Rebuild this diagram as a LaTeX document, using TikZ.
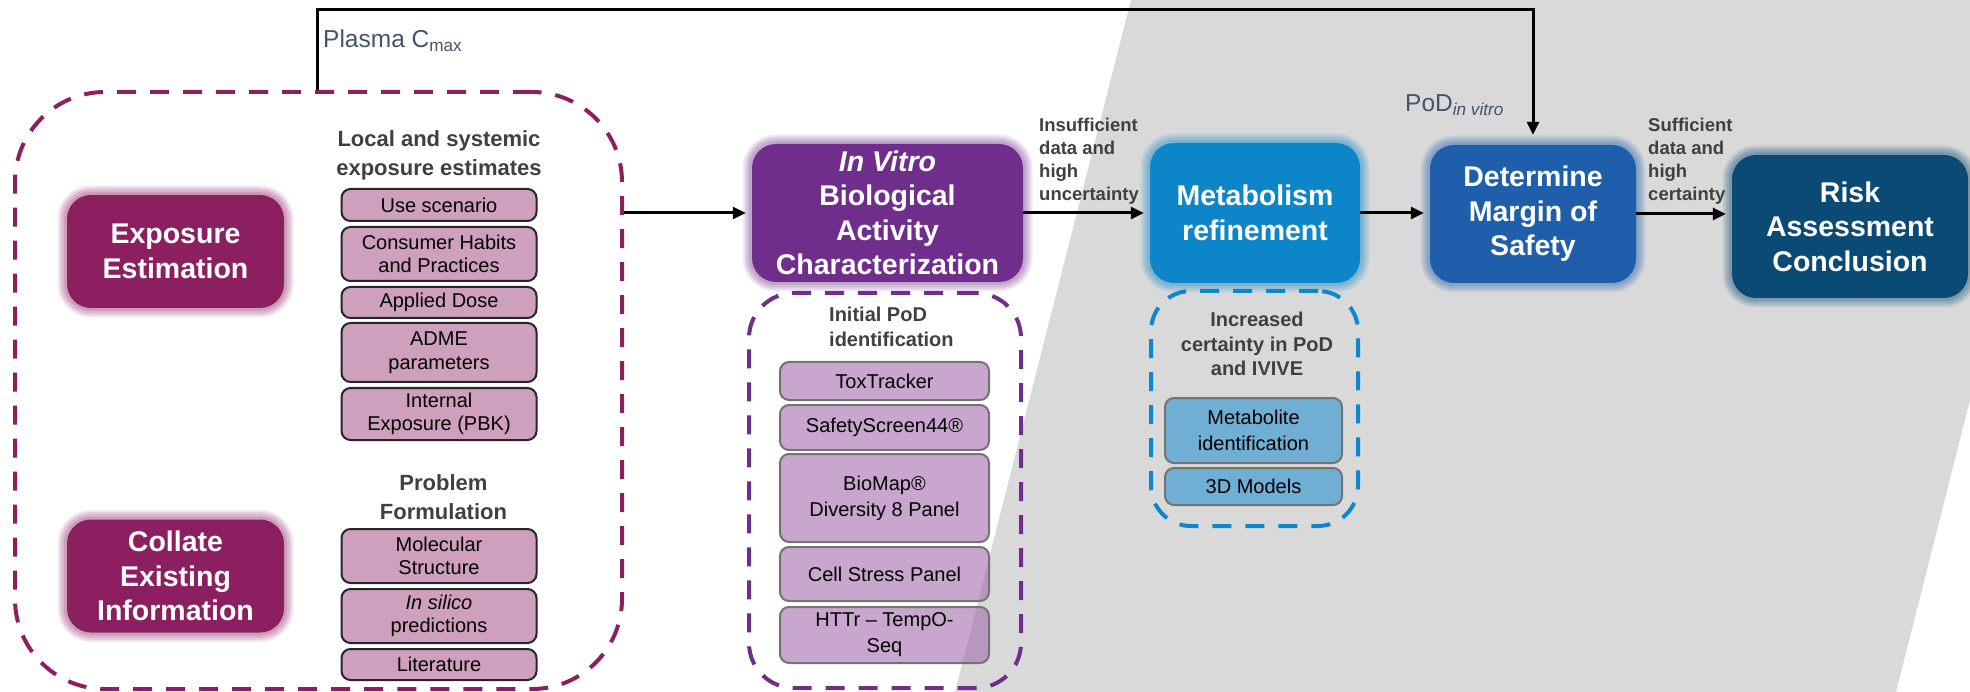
\documentclass[tikz,border=0pt]{standalone}
\usepackage{fontspec}
\setmainfont{Liberation Sans}
\usetikzlibrary{arrows.meta}

\definecolor{ngrabg}{rgb}{0.851,0.851,0.851}
\definecolor{ngraexpo}{rgb}{0.545,0.122,0.373}
\definecolor{ngrabio}{rgb}{0.439,0.180,0.549}
\definecolor{ngrametab}{rgb}{0.051,0.525,0.788}
\definecolor{ngramos}{rgb}{0.122,0.369,0.671}
\definecolor{ngrarisk}{rgb}{0.043,0.290,0.459}
\definecolor{ngrapink}{rgb}{0.812,0.627,0.745}
\definecolor{ngralav}{rgb}{0.639,0.420,0.678}
\definecolor{ngralightblue}{rgb}{0.439,0.682,0.827}
\definecolor{ngrabluedash}{rgb}{0.055,0.529,0.800}
\definecolor{ngratext}{rgb}{0.251,0.251,0.251}
\definecolor{ngralabel}{rgb}{0.267,0.329,0.416}

\tikzset{
  mainbox/.style={fill=#1, text=white, rounded corners=24pt, inner sep=0pt, align=center,
    font=\fontsize{28.5}{34.5}\selectfont\bfseries,
    preaction={draw=#1, draw opacity=0.1, line width=19pt},
    preaction={draw=#1, draw opacity=0.12, line width=15pt},
    preaction={draw=#1, draw opacity=0.14, line width=11pt},
    preaction={draw=#1, draw opacity=0.16, line width=6pt}},
  groupbox/.style={draw=#1, line width=4pt, dash pattern=on 19pt off 14pt, inner sep=0pt},
  itembox/.style={rounded corners=9pt, line width=2pt, inner sep=0pt, align=center},
  pinkitem/.style={itembox, fill=ngrapink, draw=black!85, minimum width=195pt,
    font=\fontsize{20}{23.5}\selectfont},
  lavitem/.style={itembox, fill=ngralav, fill opacity=0.6, text opacity=1, draw=black!55,
    minimum width=209pt, font=\fontsize{20}{26}\selectfont},
  blueitem/.style={itembox, fill=ngralightblue, draw=black!55, minimum width=177pt,
    font=\fontsize{20}{26}\selectfont},
  heading/.style={text=ngratext, align=center, inner sep=0pt, font=\fontsize{22}{29}\selectfont\bfseries},
  subheading/.style={text=ngratext, inner sep=0pt, font=\fontsize{20}{24.5}\selectfont\bfseries},
  flow/.style={line width=3pt, -{Triangle[length=13pt,width=12pt]}, shorten >=6pt},
  flowlabel/.style={text=ngratext, align=left, inner sep=0pt, anchor=north west,
    font=\fontsize{18.5}{22.8}\selectfont\bfseries},
  valuelabel/.style={text=ngralabel, inner sep=0pt, anchor=base west, font=\fontsize{24.5}{29}\selectfont}
}

\begin{document}
\begin{tikzpicture}[x=1pt,y=-1pt]
\useasboundingbox (0,0) rectangle (1970,692);
\fill[ngrabg] (1131,0) -- (1970,0) -- (1970,400) -- (1896,692) -- (955,692) -- cycle;

\node[groupbox=ngraexpo, rounded corners=90pt, minimum width=607pt, minimum height=597pt] (expogroup) at (318.5,390.5) {};
\node[groupbox=ngrabio, rounded corners=45pt, minimum width=272pt, minimum height=395pt] (biogroup) at (885,490.5) {};
\node[groupbox=ngrabluedash, rounded corners=40pt, minimum width=207pt, minimum height=235pt] (metabgroup) at (1254.5,408.5) {};

\node[mainbox=ngraexpo, minimum width=217pt, minimum height=113pt] (expoest) at (175.5,251.5) {Exposure\\Estimation};
\node[mainbox=ngraexpo, minimum width=217pt, minimum height=113pt] (collate) at (175.5,576) {Collate\\Existing\\Information};

\node[heading] (localhead) at (439,155) {Local and systemic\\exposure estimates};
\node[pinkitem, minimum height=32pt] (usescen) at (439,205) {Use scenario};
\node[pinkitem, minimum height=54pt] (habits) at (439,254) {Consumer Habits\\and Practices};
\node[pinkitem, minimum height=31pt] (applied) at (439,302.5) {Applied Dose};
\node[pinkitem, minimum height=59pt] (adme) at (439,352.5) {ADME\\parameters};
\node[pinkitem, minimum height=52pt] (pbk) at (439,414) {Internal\\Exposure (PBK)};
\node[heading] (probhead) at (443.5,497) {Problem\\Formulation};
\node[pinkitem, minimum height=54pt] (molstruct) at (439,556) {Molecular\\Structure};
\node[pinkitem, minimum height=54pt] (insilico) at (439,616) {\itshape In silico\\predictions};
\node[pinkitem, minimum height=31pt] (literature) at (439,664.5) {Literature};

\node[mainbox=ngrabio, minimum width=271pt, minimum height=138pt] (bio) at (887.5,213) {{\itshape In Vitro}\\Biological\\Activity\\Characterization};
\node[subheading, anchor=north west, align=left] (podhead) at (829,307) {Initial PoD\\identification};
\node[lavitem, minimum height=38pt] (toxtracker) at (884.5,381) {ToxTracker};
\node[lavitem, minimum height=45pt] (safety) at (884.5,427.5) {SafetyScreen44®};
\node[lavitem, minimum height=88pt] (biomap) at (884.5,498) {BioMap®\\Diversity 8 Panel};
\node[lavitem, minimum height=54pt] (cellstress) at (884.5,574) {Cell Stress Panel};
\node[lavitem, minimum height=56pt] (httr) at (884.5,635) {HTTr -- TempO-\\Seq};

\node[mainbox=ngrametab, minimum width=210pt, minimum height=140pt] (metab) at (1255,213) {Metabolism\\refinement};
\node[subheading, anchor=north, align=center] (certhead) at (1257,312) {Increased\\certainty in PoD\\and IVIVE};
\node[blueitem, minimum height=65pt] (metabid) at (1253.5,430.5) {Metabolite\\identification};
\node[blueitem, minimum height=37pt] (models) at (1253.5,486.5) {3D Models};

\node[mainbox=ngramos, minimum width=206pt, minimum height=138pt] (mos) at (1533,214) {Determine\\Margin of\\Safety};

\node[valuelabel] (cmaxlabel) at (323,48) {Plasma C\textsubscript{max}};
\node[valuelabel] (podlabel) at (1405,112) {PoD\textsubscript{\itshape in vitro}};
\node[flowlabel] (insufflabel) at (1039,118) {Insufficient\\data and\\high\\uncertainty};
\node[flowlabel] (sufflabel) at (1648,118) {Sufficient\\data and\\high\\certainty};

\coordinate (cmaxbend) at (317,10);
\draw[flow, shorten >=10pt] (cmaxbend |- expogroup.north) -- (cmaxbend) -| (mos.north);
\draw[flow] (expogroup.east |- bio.west) -- (bio.west);
\draw[flow] (bio.east) -- (bio.east -| metab.west);
\draw[flow] (metab.east) -- (metab.east -| mos.west);

\node[mainbox=ngrarisk, minimum width=236pt, minimum height=143pt] (risk) at (1850,226.5) {Risk\\Assessment\\Conclusion};
\draw[flow] (mos.east) -- (mos.east -| risk.west);
\end{tikzpicture}
\end{document}
